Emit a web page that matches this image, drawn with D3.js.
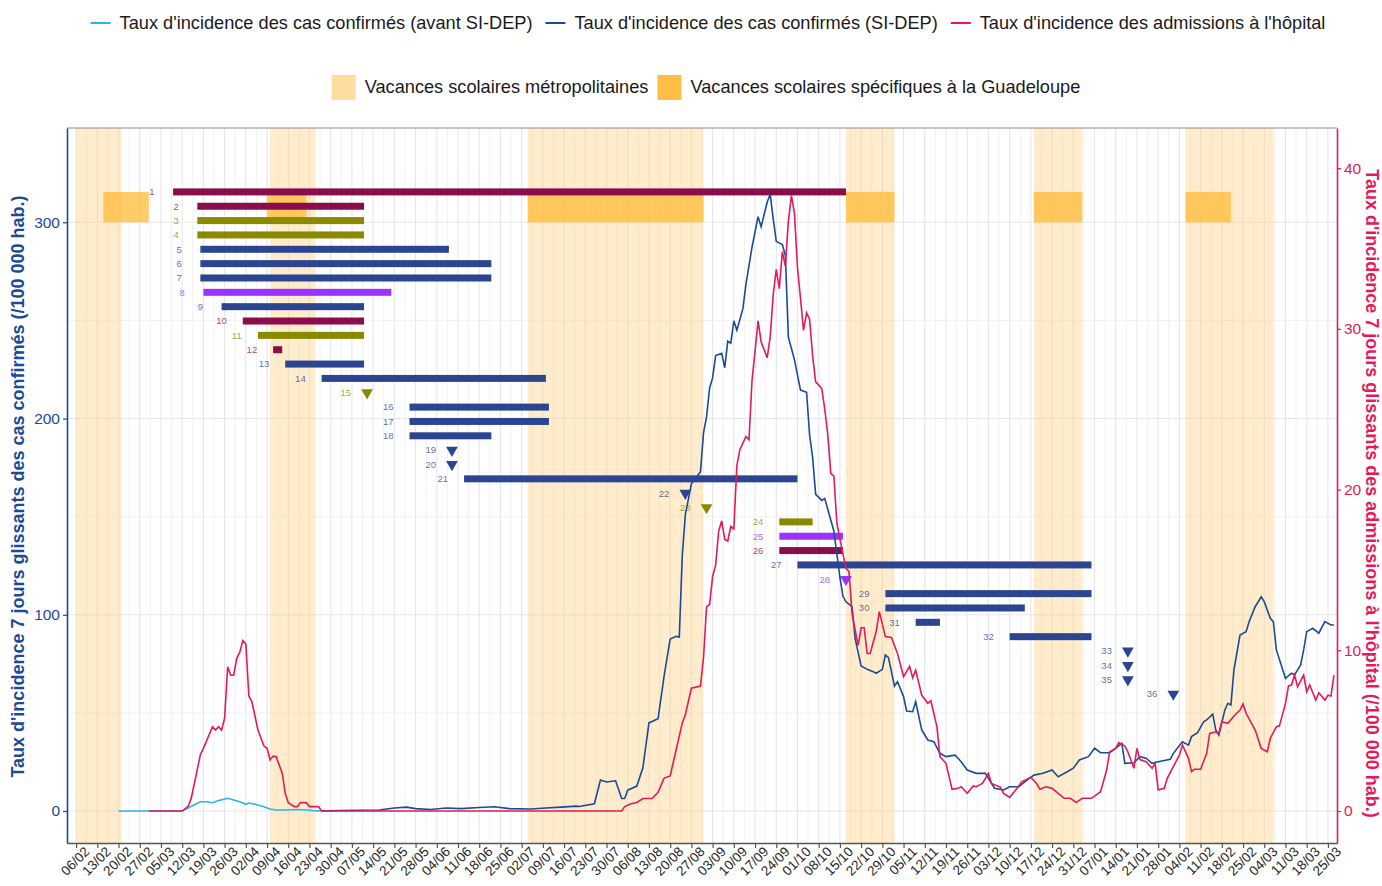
<!DOCTYPE html>
<html>
<head>
<meta charset="utf-8">
<script src="https://cdn.jsdelivr.net/npm/d3@7"></script>
<style>
  body { margin: 0; background: #fff; }
  svg { font-family: "Liberation Sans", Arial, sans-serif; }
</style>
</head>
<body>
<svg id="chart" width="1382" height="886"></svg>
<script>
// ---- data ----
// confirmed cases before SI-DEP (left axis, /100 000)
var casesBefore = [["2020-02-20",0],["2020-03-12",0],["2020-03-14",1.5],["2020-03-16",3.2],["2020-03-18",4.7],["2020-03-20",4.7],["2020-03-22",4.2],["2020-03-24",5.3],["2020-03-27",6.5],["2020-03-29",5.6],["2020-03-31",4.7],["2020-04-02",3.4],["2020-04-03",4.1],["2020-04-05",3.4],["2020-04-08",2.2],["2020-04-10",1.0],["2020-04-12",0.5],["2020-04-15",0.5],["2020-04-19",0.8],["2020-04-22",0.5],["2020-04-24",0.2],["2020-04-27",0]];

// confirmed cases SI-DEP (left axis)
var casesSidep = [["2020-04-27",0],["2020-05-03",0.3],["2020-05-16",0.5],["2020-05-21",1.5],["2020-05-25",2],["2020-05-28",1.2],["2020-06-02",0.8],["2020-06-07",1.5],["2020-06-12",1.2],["2020-06-18",1.8],["2020-06-23",2.2],["2020-06-28",1.2],["2020-07-05",1.0],["2020-07-10",1.5],["2020-07-15",2],["2020-07-20",2.5],["2020-07-21",2.3],["2020-07-26",3.7],["2020-07-28",15.8],["2020-07-30",14.8],["2020-08-02",15.4],["2020-08-04",6.4],["2020-08-05",6.4],["2020-08-06",10.6],["2020-08-09",12.7],["2020-08-11",22],["2020-08-13",44.9],["2020-08-16",47],["2020-08-18",68.9],["2020-08-20",87.6],["2020-08-22",89],["2020-08-23",88.7],["2020-08-24",130.2],["2020-08-25",151],["2020-08-27",166.7],["2020-08-30",172.9],["2020-08-31",192.7],["2020-09-01",200.9],["2020-09-02",215.5],["2020-09-03",220.7],["2020-09-04",232.1],["2020-09-06",233.2],["2020-09-07",225.9],["2020-09-08",239.4],["2020-09-09",238.4],["2020-09-10",249.8],["2020-09-11",245],["2020-09-13",256],["2020-09-14",268.5],["2020-09-16",287.3],["2020-09-18",302.9],["2020-09-19",297.7],["2020-09-21",310.2],["2020-09-22",314.3],["2020-09-23",301.8],["2020-09-24",290.3],["2020-09-26",288.7],["2020-09-27",283.1],["2020-09-28",241.5],["2020-09-30",230],["2020-10-02",214.5],["2020-10-04",213.4],["2020-10-05",191.6],["2020-10-06",180.1],["2020-10-07",161.4],["2020-10-09",158.3],["2020-10-10",159.3],["2020-10-13",142.7],["2020-10-15",119],["2020-10-16",109.4],["2020-10-17",106.6],["2020-10-19",104.1],["2020-10-20",88],["2020-10-22",73.9],["2020-10-24",72.2],["2020-10-26",71],["2020-10-27",70.2],["2020-10-29",72.2],["2020-10-30",79.5],["2020-10-31",78.3],["2020-11-02",63.7],["2020-11-03",65.9],["2020-11-05",58.3],["2020-11-06",51],["2020-11-08",50.6],["2020-11-09",55.7],["2020-11-11",41.3],["2020-11-13",36.2],["2020-11-15",35.3],["2020-11-17",29.4],["2020-11-19",27.7],["2020-11-22",28.5],["2020-11-24",25.1],["2020-11-26",20.9],["2020-11-29",19.2],["2020-12-02",19.2],["2020-12-05",11.6],["2020-12-08",10.7],["2020-12-10",12.4],["2020-12-13",12.4],["2020-12-15",14.9],["2020-12-18",18.3],["2020-12-21",19.2],["2020-12-24",20.9],["2020-12-26",17.5],["2020-12-29",20],["2020-12-31",21.8],["2021-01-02",26],["2021-01-05",27.7],["2021-01-07",32],["2021-01-09",29.7],["2021-01-12",29.7],["2021-01-14",32],["2021-01-16",34.5],["2021-01-17",24.3],["2021-01-20",24.6],["2021-01-22",27.7],["2021-01-24",26.9],["2021-01-26",24.3],["2021-01-28",25.1],["2021-02-01",26.3],["2021-02-02",29.4],["2021-02-05",35.3],["2021-02-07",33.6],["2021-02-08",37.9],["2021-02-10",39.9],["2021-02-12",45.5],["2021-02-13",46.4],["2021-02-15",49.4],["2021-02-16",41.3],["2021-02-17",38.7],["2021-02-19",51.5],["2021-02-20",54.9],["2021-02-21",54],["2021-02-22",71.9],["2021-02-24",89.7],["2021-02-26",91.4],["2021-02-27",96.5],["2021-03-01",104.1],["2021-03-03",109.2],["2021-03-04",106.7],["2021-03-06",98.2],["2021-03-07",96.5],["2021-03-08",82.1],["2021-03-11",67.6],["2021-03-13",70.2],["2021-03-14",69.3],["2021-03-16",74.4],["2021-03-17",82.1],["2021-03-18",91.4],["2021-03-20",93.1],["2021-03-22",90.6],["2021-03-24",96.5],["2021-03-26",94.8],["2021-03-27",94.8]];

// hospital admissions (right axis)
var hospital = [["2020-03-01",0],["2020-03-12",0],["2020-03-14",0.3],["2020-03-15",0.8],["2020-03-18",3.5],["2020-03-19",3.9],["2020-03-22",5.25],["2020-03-23",5.04],["2020-03-24",5.25],["2020-03-25",5.04],["2020-03-26",5.77],["2020-03-27",8.97],["2020-03-28",8.45],["2020-03-29",8.45],["2020-03-30",9.5],["2020-03-31",9.87],["2020-04-01",10.6],["2020-04-02",10.4],["2020-04-03",7.16],["2020-04-04",6.8],["2020-04-06",5.04],["2020-04-08",4.04],["2020-04-09",3.9],["2020-04-10",3.17],["2020-04-11",3.42],["2020-04-12",3.38],["2020-04-14",2.35],["2020-04-15",1.1],["2020-04-16",0.52],["2020-04-18",0.27],["2020-04-19",0.27],["2020-04-20",0.52],["2020-04-22",0.52],["2020-04-23",0.27],["2020-04-26",0.27],["2020-04-27",0],["2020-08-04",0],["2020-08-05",0.28],["2020-08-07",0.45],["2020-08-09",0.53],["2020-08-11",0.78],["2020-08-14",0.78],["2020-08-16",1.17],["2020-08-18",2.05],["2020-08-20",2.18],["2020-08-22",3.83],["2020-08-24",5.48],["2020-08-25",5.99],["2020-08-27",7.64],["2020-08-30",7.77],["2020-08-31",9.55],["2020-09-01",12.7],["2020-09-02",12.85],["2020-09-03",14.6],["2020-09-04",15.3],["2020-09-05",17.4],["2020-09-06",18.06],["2020-09-07",16.9],["2020-09-08",16.8],["2020-09-09",17.7],["2020-09-10",17.55],["2020-09-11",21.5],["2020-09-12",22.5],["2020-09-14",23.3],["2020-09-15",23.1],["2020-09-16",26.8],["2020-09-17",28.6],["2020-09-18",30.5],["2020-09-19",29.2],["2020-09-21",28.2],["2020-09-22",29.5],["2020-09-23",32.15],["2020-09-24",33.7],["2020-09-25",32.5],["2020-09-26",34.8],["2020-09-27",33.9],["2020-09-28",36.7],["2020-09-29",38.3],["2020-09-30",37.2],["2020-10-01",33.8],["2020-10-02",31.9],["2020-10-03",29.9],["2020-10-04",31],["2020-10-05",30.6],["2020-10-06",28.3],["2020-10-07",26.7],["2020-10-09",26.3],["2020-10-10",25],["2020-10-11",23.4],["2020-10-12",21],["2020-10-13",20.85],["2020-10-14",17.9],["2020-10-16",16],["2020-10-17",15.1],["2020-10-18",14.9],["2020-10-19",12.3],["2020-10-21",10.3],["2020-10-22",11.4],["2020-10-23",11.4],["2020-10-24",9.8],["2020-10-25",9.8],["2020-10-27",11.2],["2020-10-28",12.4],["2020-10-30",10.85],["2020-11-01",10.8],["2020-11-03",9.8],["2020-11-05",8.36],["2020-11-07",9.0],["2020-11-08",8.3],["2020-11-09",8.77],["2020-11-11",7.2],["2020-11-13",6.7],["2020-11-14",6.86],["2020-11-16",5.25],["2020-11-17",3.38],["2020-11-19",2.97],["2020-11-21",1.35],["2020-11-23",1.41],["2020-11-24",1.51],["2020-11-26",1.1],["2020-11-28",1.56],["2020-11-29",1.51],["2020-12-01",1.72],["2020-12-03",2.34],["2020-12-04",1.72],["2020-12-07",1.47],["2020-12-08",1.1],["2020-12-10",0.85],["2020-12-12",1.31],["2020-12-14",1.82],["2020-12-17",2.1],["2020-12-19",1.68],["2020-12-20",1.35],["2020-12-22",1.51],["2020-12-24",1.41],["2020-12-28",0.79],["2020-12-30",0.79],["2021-01-01",0.54],["2021-01-03",0.79],["2021-01-06",0.79],["2021-01-09",1.2],["2021-01-11",2.55],["2021-01-12",3.69],["2021-01-14",3.9],["2021-01-15",4.25],["2021-01-17",4.04],["2021-01-18",3.69],["2021-01-20",2.66],["2021-01-21",3.9],["2021-01-22",3.2],["2021-01-24",3.07],["2021-01-26",2.66],["2021-01-27",2.97],["2021-01-28",1.31],["2021-01-30",1.41],["2021-01-31",2.03],["2021-02-02",2.76],["2021-02-04",3.48],["2021-02-05",4.1],["2021-02-07",3.28],["2021-02-08",2.45],["2021-02-09",2.6],["2021-02-11",2.6],["2021-02-13",3.59],["2021-02-14",4.83],["2021-02-16",4.93],["2021-02-17",4.83],["2021-02-18",5.56],["2021-02-20",5.46],["2021-02-22",5.91],["2021-02-24",6.28],["2021-02-25",6.66],["2021-02-26",6.08],["2021-03-01",5.04],["2021-03-03",3.9],["2021-03-05",3.69],["2021-03-06",4.52],["2021-03-08",5.25],["2021-03-09",5.3],["2021-03-11",6.7],["2021-03-12",7.78],["2021-03-13",7.84],["2021-03-14",8.46],["2021-03-15",7.73],["2021-03-17",8.46],["2021-03-18",7.42],["2021-03-19",7.84],["2021-03-21",6.9],["2021-03-22",7.36],["2021-03-24",6.9],["2021-03-25",7.2],["2021-03-26",7.15],["2021-03-27",8.46]];

// school holidays [start, end]
var metroHolidays = [["2020-02-06","2020-02-21"],["2020-04-10","2020-04-25"],["2020-07-04","2020-08-31"],["2020-10-17","2020-11-02"],["2020-12-18","2021-01-03"],["2021-02-06","2021-03-07"]];
var guadeloupeHolidays = [["2020-02-15","2020-03-01"],["2020-04-09","2020-04-22"],["2020-07-04","2020-08-31"],["2020-10-17","2020-11-02"],["2020-12-18","2021-01-03"],["2021-02-06","2021-02-21"]];
var guadeloupeBandValues = [300, 315.5];

// numbered measures (null end = single date, drawn as a triangle)
var measureIds = [1,2,3,4,5,6,7,8,9,10,11,12,13,14,15,16,17,18,19,20,21,22,23,24,25,26,27,28,29,30,31,32,33,34,35,36];
var measureStart = ["2020-03-09","2020-03-17","2020-03-17","2020-03-17","2020-03-18","2020-03-18","2020-03-18","2020-03-19","2020-03-25","2020-04-01","2020-04-06","2020-04-11","2020-04-15","2020-04-27","2020-05-12","2020-05-26","2020-05-26","2020-05-26","2020-06-09","2020-06-09","2020-06-13","2020-08-25","2020-09-01","2020-09-25","2020-09-25","2020-09-25","2020-10-01","2020-10-17","2020-10-30","2020-10-30","2020-11-09","2020-12-10","2021-01-18","2021-01-18","2021-01-18","2021-02-02"];
var measureEnd = ["2020-10-17","2020-05-11","2020-05-11","2020-05-11","2020-06-08","2020-06-22","2020-06-22","2020-05-20","2020-05-11","2020-05-11","2020-05-11","2020-04-14","2020-05-11","2020-07-10",null,"2020-07-11","2020-07-11","2020-06-22",null,null,"2020-10-01",null,null,"2020-10-06","2020-10-16","2020-10-16","2021-01-06",null,"2021-01-06","2020-12-15","2020-11-17","2021-01-06",null,null,null,null];
var measureGroup = ["bordeaux","bordeaux","olive","olive","bleu","bleu","bleu","violet","bleu","bordeaux","olive","bordeaux","bleu","bleu","olive","bleu","bleu","bleu","bleu","bleu","bleu","bleu","olive","olive","violet","bordeaux","bleu","violet","bleu","bleu","bleu","bleu","bleu","bleu","bleu","bleu"];
var measureRowValues = [315.5, 59.6]; // left-axis values of the first and last row

var yTicksLeft = [0, 100, 200, 300];
var yTicksRight = [0, 10, 20, 30, 40];
var axisRatio = 8.19; // left units per right unit

var seriesNames = ["Taux d'incidence des cas confirmés (avant SI-DEP)", "Taux d'incidence des cas confirmés (SI-DEP)", "Taux d'incidence des admissions à l'hôpital"];
var holidayNames = ["Vacances scolaires métropolitaines", "Vacances scolaires spécifiques à la Guadeloupe"];

// ---- colours ----
var cyan = "#2fb4e6";
var navy = "#1b4a98";
var crimson = "#e5195b";
var groupColor = { bordeaux: "#8b0c4b", olive: "#8a8a00", bleu: "#2b4590", violet: "#9b32ff" };
var lightOrange = "#ffd080";
var darkOrange = "#ffb830";

var parse = d3.timeParse("%Y-%m-%d");
var svg = d3.select("svg#chart");

var panelLeft = 67, panelRight = 1337, panelTop = 128, panelBottom = 843;

var x = d3.scaleTime()
  .domain([parse("2020-02-03"), parse("2021-03-28")])
  .range([panelLeft, panelRight]);
var y = d3.scaleLinear().domain([-16.3, 348.06]).range([panelBottom, panelTop]);
var yRight = d3.scaleLinear().domain(y.domain().map(function(v) { return v / axisRatio; })).range([panelBottom, panelTop]);
var row = d3.scalePoint().domain(measureIds).range([y(measureRowValues[0]), y(measureRowValues[1])]);

var weekTicks = d3.timeThursday.range(parse("2020-02-06"), parse("2021-03-26"));
var minorTicks = weekTicks.map(function(d) { return d3.timeHour.offset(d, 84); })
  .filter(function(d) { return d < x.domain()[1]; });

svg.append("defs").append("clipPath").attr("id", "panel")
  .append("rect").attr("x", panelLeft).attr("y", panelTop)
  .attr("width", panelRight - panelLeft).attr("height", panelBottom - panelTop);

// grid
var grid = svg.append("g");
grid.selectAll("line.vmin").data(minorTicks).join("line")
  .attr("x1", function(d) { return x(d); }).attr("x2", function(d) { return x(d); })
  .attr("y1", panelTop).attr("y2", panelBottom)
  .attr("stroke", "#f1f1f1").attr("stroke-width", 1);
grid.selectAll("line.vmaj").data(weekTicks).join("line")
  .attr("x1", function(d) { return x(d); }).attr("x2", function(d) { return x(d); })
  .attr("y1", panelTop).attr("y2", panelBottom)
  .attr("stroke", "#e6e6e6").attr("stroke-width", 1.1);
grid.selectAll("line.hmin").data([50, 150, 250]).join("line")
  .attr("x1", panelLeft).attr("x2", panelRight)
  .attr("y1", function(d) { return y(d); }).attr("y2", function(d) { return y(d); })
  .attr("stroke", "#f1f1f1").attr("stroke-width", 1);
grid.selectAll("line.hmaj").data(yTicksLeft).join("line")
  .attr("x1", panelLeft).attr("x2", panelRight)
  .attr("y1", function(d) { return y(d); }).attr("y2", function(d) { return y(d); })
  .attr("stroke", "#e6e6e6").attr("stroke-width", 1.1);

// holidays
svg.append("g").selectAll("rect").data(metroHolidays).join("rect")
  .attr("x", function(d) { return x(parse(d[0])); })
  .attr("width", function(d) { return x(parse(d[1])) - x(parse(d[0])); })
  .attr("y", panelTop).attr("height", panelBottom - panelTop)
  .attr("fill", lightOrange).attr("fill-opacity", 0.4);
svg.append("g").selectAll("rect").data(guadeloupeHolidays).join("rect")
  .attr("x", function(d) { return x(parse(d[0])); })
  .attr("width", function(d) { return x(parse(d[1])) - x(parse(d[0])); })
  .attr("y", y(guadeloupeBandValues[1]))
  .attr("height", y(guadeloupeBandValues[0]) - y(guadeloupeBandValues[1]))
  .attr("fill", darkOrange).attr("fill-opacity", 0.72);

// measures
var measures = measureIds.map(function(id, i) {
  return { id: id, start: parse(measureStart[i]), end: measureEnd[i] ? parse(measureEnd[i]) : null, group: measureGroup[i] };
});
var mg = svg.append("g");
mg.selectAll("rect").data(measures.filter(function(d) { return d.end; })).join("rect")
  .attr("x", function(d) { return x(d.start); })
  .attr("width", function(d) { return Math.max(x(d.end) - x(d.start), 1); })
  .attr("y", function(d) { return row(d.id) - 3.5; })
  .attr("height", 7)
  .attr("fill", function(d) { return groupColor[d.group]; });
mg.selectAll("path").data(measures.filter(function(d) { return !d.end; })).join("path")
  .attr("d", d3.symbol(d3.symbolTriangle, 60))
  .attr("transform", function(d) { return "translate(" + x(d.start) + "," + row(d.id) + ") rotate(180)"; })
  .attr("fill", function(d) { return groupColor[d.group]; });
mg.selectAll("text").data(measures).join("text")
  .attr("x", function(d) { return x(d3.timeDay.offset(d.start, -7)); })
  .attr("y", function(d) { return row(d.id); })
  .attr("dy", "0.35em")
  .attr("text-anchor", "middle")
  .attr("font-size", 9.5)
  .attr("fill", function(d) { return groupColor[d.group]; })
  .attr("fill-opacity", 0.78)
  .text(function(d) { return d.id; });

// lines
var lines = svg.append("g").attr("clip-path", "url(#panel)");
var lineLeft = d3.line().x(function(d) { return x(parse(d[0])); }).y(function(d) { return y(d[1]); });
var lineRight = d3.line().x(function(d) { return x(parse(d[0])); }).y(function(d) { return yRight(d[1]); });
lines.append("path").attr("d", lineLeft(casesBefore)).attr("fill", "none").attr("stroke", cyan).attr("stroke-width", 1.6);
lines.append("path").attr("d", lineLeft(casesSidep)).attr("fill", "none").attr("stroke", navy).attr("stroke-width", 1.6);
lines.append("path").attr("d", lineRight(hospital)).attr("fill", "none").attr("stroke", crimson).attr("stroke-width", 1.6);

// panel top border
svg.append("line").attr("x1", panelLeft).attr("x2", panelRight).attr("y1", panelTop).attr("y2", panelTop)
  .attr("stroke", "#8c8c8c").attr("stroke-width", 1.2);

// axes
var xAxis = svg.append("g").attr("transform", "translate(0," + panelBottom + ")")
  .call(d3.axisBottom(x).tickValues(weekTicks).tickFormat(d3.timeFormat("%d/%m")).tickSize(5).tickSizeOuter(0));
xAxis.select(".domain").attr("stroke", "#555").attr("stroke-width", 1.4);
xAxis.selectAll(".tick line").attr("stroke", "#555").attr("stroke-width", 1.2);
xAxis.selectAll(".tick text")
  .attr("font-size", 13.5).attr("font-family", "Liberation Sans, Arial, sans-serif").attr("fill", "#262626")
  .attr("text-anchor", "end").attr("x", 3).attr("y", 7).attr("dy", "0.7em")
  .attr("transform", "rotate(-45)");

var yAxis = svg.append("g").attr("transform", "translate(" + panelLeft + ",0)")
  .call(d3.axisLeft(y).tickValues(yTicksLeft).tickSize(4).tickSizeOuter(0));
yAxis.select(".domain").attr("stroke", navy).attr("stroke-width", 1.6);
yAxis.selectAll(".tick line").attr("stroke", navy).attr("stroke-width", 1.2);
yAxis.selectAll(".tick text").attr("font-size", 15.5).attr("font-family", "Liberation Sans, Arial, sans-serif").attr("fill", navy);

var yAxisR = svg.append("g").attr("transform", "translate(" + panelRight + ",0)")
  .call(d3.axisRight(yRight).tickValues(yTicksRight).tickSize(4).tickSizeOuter(0));
yAxisR.select(".domain").attr("stroke", crimson).attr("stroke-width", 1.6);
yAxisR.selectAll(".tick line").attr("stroke", crimson).attr("stroke-width", 1.2);
yAxisR.selectAll(".tick text").attr("font-size", 15.5).attr("font-family", "Liberation Sans, Arial, sans-serif").attr("fill", crimson);

// axis titles
svg.append("text")
  .attr("transform", "translate(24," + ((panelTop + panelBottom) / 2 + 1) + ") rotate(-90)")
  .attr("text-anchor", "middle").attr("font-size", 18).attr("font-weight", "bold").attr("fill", navy)
  .text("Taux d'incidence 7 jours glissants des cas confirmés (/100 000 hab.)");
svg.append("text")
  .attr("transform", "translate(1366," + ((panelTop + panelBottom) / 2 + 8) + ") rotate(90)")
  .attr("text-anchor", "middle").attr("font-size", 18).attr("font-weight", "bold").attr("fill", crimson)
  .text("Taux d'incidence 7 jours glissants des admissions à l'hôpital (/100 000 hab.)");

// legend row 1: lines
var legend1 = svg.append("g");
var lineColors = [cyan, navy, crimson];
var cx = 0;
seriesNames.forEach(function(name, i) {
  var g = legend1.append("g").attr("transform", "translate(" + cx + ",0)");
  g.append("line").attr("x1", 0).attr("x2", 20).attr("y1", 0).attr("y2", 0)
    .attr("stroke", lineColors[i]).attr("stroke-width", 2);
  var t = g.append("text").attr("x", 29).attr("dy", "0.35em").attr("font-size", 18.2).attr("fill", "#1a1a1a").text(name);
  cx += 29 + t.node().getComputedTextLength() + 13;
});
legend1.attr("transform", "translate(" + (708 - (cx - 13) / 2) + ",23)");

// legend row 2: holiday boxes
var legend2 = svg.append("g");
var boxColors = [lightOrange, darkOrange];
var bx = 0;
holidayNames.forEach(function(name, i) {
  var g = legend2.append("g").attr("transform", "translate(" + bx + ",0)");
  g.append("rect").attr("x", 0).attr("y", -12).attr("width", 24).attr("height", 25)
    .attr("fill", boxColors[i]).attr("fill-opacity", i === 0 ? 0.75 : 0.9);
  var t = g.append("text").attr("x", 33).attr("dy", "0.35em").attr("font-size", 18.2).attr("fill", "#1a1a1a").text(name);
  bx += 33 + t.node().getComputedTextLength() + 9;
});
legend2.attr("transform", "translate(" + (706 - (bx - 9) / 2) + ",87)");
</script>
</body>
</html>
